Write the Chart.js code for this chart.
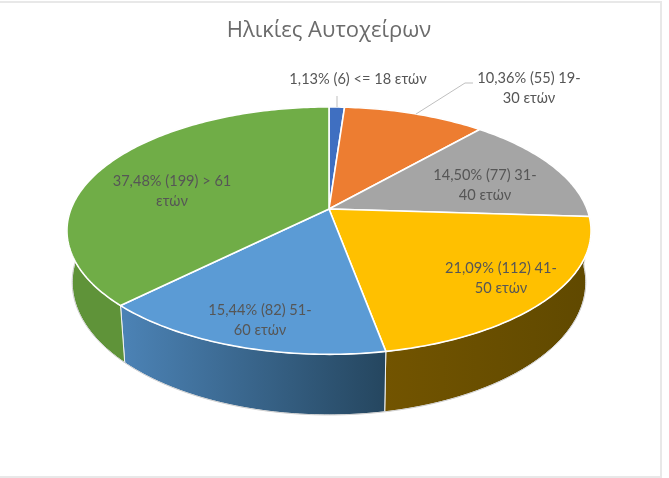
<!DOCTYPE html>
<html>
<head>
<meta charset="utf-8">
<script src="https://cdn.jsdelivr.net/npm/chart.js@4"></script>
<style>
  html, body { margin:0; padding:0; background:#fff; }
  #frame { position:absolute; left:-3px; top:1px; width:661px; height:473px; border:2px solid #e8e8e8; }
  #wrap { position:absolute; left:0; top:0; width:669px; height:478px; }
</style>
</head>
<body>
<div id="frame"></div>
<div id="wrap"><canvas id="pie" width="669" height="478"></canvas></div>
<script>
const TITLE = "Ηλικίες Αυτοχείρων";
const categories = ["<= 18 ετών", "19-30 ετών", "31-40 ετών", "41-50 ετών", "51-60 ετών", "> 61 ετών"];
const counts = [6, 55, 77, 112, 82, 199];
const percents = ["1,13%", "10,36%", "14,50%", "21,09%", "15,44%", "37,48%"];

const topColors = ["#3F6FC1", "#ED7D31", "#A5A5A5", "#FFC000", "#5B9BD5", "#70AD47"];
const wallLeft = ["#2f5597", "#a85a20", "#6e6e6e", "#725400", "#4c83b6", "#5f9339"];
const wallRight = ["#2f5597", "#a85a20", "#6e6e6e", "#604900", "#25465f", "#4f7e30"];

// label lines, as wrapped in the picture, with centre x and first line y
const labelLines = [
  [percents[0] + " (6) " + categories[0]],
  [percents[1] + " (55) 19-", "30 ετών"],
  [percents[2] + " (77) 31-", "40 ετών"],
  [percents[3] + " (112) 41-", "50 ετών"],
  [percents[4] + " (82) 51-", "60 ετών"],
  [percents[5] + " (199) > 61", "ετών"]
];
const labelX = [358, 529, 485, 501, 260, 172];
const labelY = [79, 78, 175, 268, 310, 181];

// projection of the tilted disc
const HUB_X = 329, HUB_Y = 209, RAD_X = 258, RAD_Y = 119.9, PERSP = 0.175, DEPTH = 50, BOTTOM_SHRINK = 0.98;

function project(a, lower){
  const X = Math.cos(a), Y = Math.sin(a);
  const w = 1 - PERSP * Y;
  const px = RAD_X * X / w;
  const py = RAD_Y * Y / w;
  if (lower) return [HUB_X + px * BOTTOM_SHRINK, HUB_Y + py + DEPTH / w];
  return [HUB_X + px, HUB_Y + py];
}

function rimPath(ctx, a0, a1, lower, first){
  const n = Math.max(2, Math.ceil(Math.abs(a1 - a0) * 60));
  for (let i = 0; i <= n; i++){
    const p = project(a0 + (a1 - a0) * i / n, lower);
    if (first && i === 0) ctx.moveTo(p[0], p[1]); else ctx.lineTo(p[0], p[1]);
  }
}

const tiltedPie = {
  id: "tiltedPie",
  beforeDatasetDraw(chart, args){
    const ctx = chart.ctx;
    const arcs = args.meta.data;
    ctx.save();
    ctx.lineJoin = "round";

    // outer walls
    arcs.forEach((arc, i)=>{
      const a0 = arc.startAngle, a1 = arc.endAngle;
      const s = project(a0), e = project(a1);
      const g = ctx.createLinearGradient(Math.min(s[0], e[0]), 0, Math.max(s[0], e[0]), 0);
      g.addColorStop(0, wallLeft[i]);
      g.addColorStop(1, wallRight[i]);
      ctx.beginPath();
      rimPath(ctx, a0, a1, false, true);
      rimPath(ctx, a1, a0, true, false);
      ctx.closePath();
      ctx.fillStyle = g;
      ctx.fill();
      ctx.strokeStyle = "#f2f2f2";
      ctx.lineWidth = 1;
      ctx.stroke();
    });

    // faint edge under the bottom rim
    ctx.beginPath();
    rimPath(ctx, -0.02, Math.PI + 0.02, true, true);
    ctx.strokeStyle = "#c9c9c9";
    ctx.lineWidth = 0.8;
    ctx.stroke();

    // top faces
    arcs.forEach((arc, i)=>{
      ctx.beginPath();
      ctx.moveTo(HUB_X, HUB_Y);
      rimPath(ctx, arc.startAngle, arc.endAngle, false, false);
      ctx.closePath();
      ctx.fillStyle = topColors[i];
      ctx.fill();
      ctx.strokeStyle = "#ffffff";
      ctx.lineWidth = 1.6;
      ctx.stroke();
    });
    ctx.restore();
    return false;
  },
  afterDatasetsDraw(chart){
    const ctx = chart.ctx;
    ctx.save();
    // leader lines
    ctx.strokeStyle = "#bfbfbf";
    ctx.lineWidth = 1;
    ctx.beginPath();
    ctx.moveTo(337, 96); ctx.lineTo(337, 107);
    ctx.moveTo(416, 114); ctx.lineTo(465, 83); ctx.lineTo(473, 83);
    ctx.stroke();
    // data labels
    ctx.font = '14.6px Lato, "Open Sans", sans-serif';
    ctx.fillStyle = "#565656";
    ctx.textAlign = "center";
    ctx.textBaseline = "middle";
    labelLines.forEach((lines, i)=>{
      lines.forEach((t, j)=> ctx.fillText(t, labelX[i], labelY[i] + j * 20.5));
    });
    ctx.restore();
  }
};

new Chart(document.getElementById("pie"), {
  type: "pie",
  data: {
    labels: categories,
    datasets: [{ data: counts, backgroundColor: topColors, borderColor: "#fff", clip: false }]
  },
  options: {
    responsive: false,
    animation: false,
    layout: { padding: { right: 11 } },
    plugins: {
      legend: { display: false },
      tooltip: { enabled: false },
      title: {
        display: true,
        text: TITLE,
        color: "#6b6b6b",
        font: { family: '"Open Sans", sans-serif', size: 22, weight: "normal" },
        padding: { top: 18, bottom: 10 }
      }
    }
  },
  plugins: [tiltedPie]
});
</script>
</body>
</html>
